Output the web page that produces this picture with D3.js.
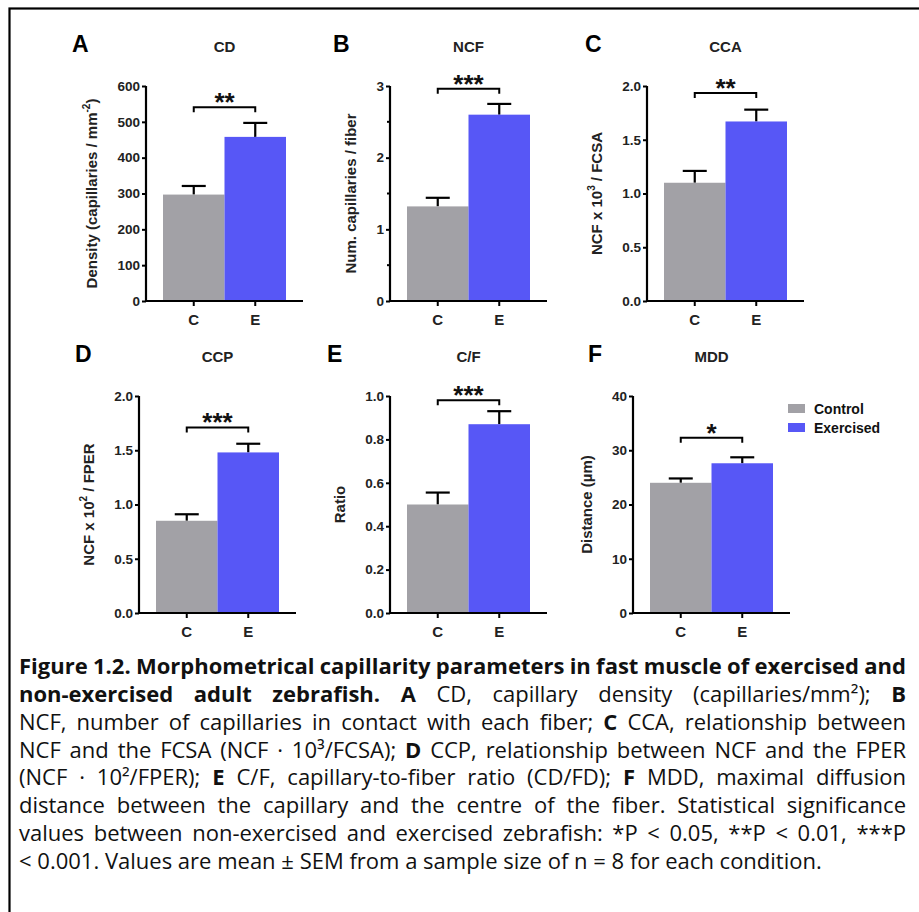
<!DOCTYPE html>
<html><head><meta charset="utf-8">
<script src="https://cdn.jsdelivr.net/npm/d3@7/dist/d3.min.js"></script>
<style>
html,body{margin:0;padding:0;background:#fff;}
svg{display:block;}
</style></head>
<body>
<svg id="fig" width="919" height="912"></svg>
<script>
// ---------------- DATA ----------------
const categories = ["C", "E"];
const seriesNames = ["Control", "Exercised"];
const panelLetters = ["A", "B", "C", "D", "E", "F"];
const panelTitles = ["CD", "NCF", "CCA", "CCP", "C/F", "MDD"];
const controlMeans = [297, 1.32, 1.10, 0.85, 0.50, 24.0];
const controlSEM = [24, 0.12, 0.11, 0.06, 0.055, 0.8];
const exercisedMeans = [458, 2.60, 1.67, 1.48, 0.87, 27.6];
const exercisedSEM = [39, 0.15, 0.11, 0.08, 0.06, 1.1];
const yMaxValues = [600, 3, 2.0, 2.0, 1.0, 40];
const yTickValues = [
  [0, 100, 200, 300, 400, 500, 600],
  [0, 1, 2, 3],
  [0, 0.5, 1.0, 1.5, 2.0],
  [0, 0.5, 1.0, 1.5, 2.0],
  [0, 0.2, 0.4, 0.6, 0.8, 1.0],
  [0, 10, 20, 30, 40]
];
const yTickDecimals = [0, 0, 1, 1, 1, 0];
const yMinorTicks = [[], [0.5, 1.5, 2.5], [], [], [], []];
const significance = ["**", "***", "**", "***", "***", "*"];
const bracketLevels = [541, 2.96, 1.935, 1.71, 0.98, 32.3];
// y-axis labels: [text, superscript, text]
const yLabels = [
  ["Density (capillaries / mm", "-2", ")"],
  ["Num. capillaries / fiber", "", ""],
  ["NCF x 10", "3", " / FCSA"],
  ["NCF x 10", "2", " / FPER"],
  ["Ratio", "", ""],
  ["Distance (\u00b5m)", "", ""]
];
const captionLines = [
  [["Figure 1.2. Morphometrical capillarity parameters in fast muscle of exercised and", true]],
  [["non-exercised adult zebrafish.", true], ["A", true], ["CD, capillary density (capillaries/mm\u00b2);", false], ["B", true]],
  [["NCF, number of capillaries in contact with each fiber;", false], ["C", true], ["CCA, relationship between", false]],
  [["NCF and the FCSA (NCF \u00b7 10\u00b3/FCSA);", false], ["D", true], ["CCP, relationship between NCF and the FPER", false]],
  [["(NCF \u00b7 10\u00b2/FPER);", false], ["E", true], ["C/F, capillary-to-fiber ratio (CD/FD);", false], ["F", true], ["MDD, maximal diffusion", false]],
  [["distance between the capillary and the centre of the fiber. Statistical significance", false]],
  [["values between non-exercised and exercised zebrafish: *P < 0.05, **P < 0.01, ***P", false]],
  [["< 0.001. Values are mean \u00b1 SEM from a sample size of n = 8 for each condition.", false]]
];

// ---------------- LAYOUT / STYLE ----------------
const colors = ["#a2a1a6", "#5757f6"];
const axisX = [146, 390, 647, 139, 390, 633];
const rowTop = [86, 86, 86, 396, 396, 396];
const rowBottom = [301, 301, 301, 613, 613, 613];
const letterX = [72, 333, 585, 75, 327, 588];
const FONT = "'Liberation Sans', Arial, Helvetica, sans-serif";

const svg = d3.select("#fig");
svg.append("rect").attr("width", 919).attr("height", 912).attr("fill", "#fff");
svg.append("rect").attr("x", 9.5).attr("y", 8.5).attr("width", 1000).attr("height", 1000)
  .attr("fill", "none").attr("stroke", "#000").attr("stroke-width", 2.2);

panelLetters.forEach((letter, i) => {
  const g = svg.append("g").attr("font-family", FONT).attr("font-weight", "bold");
  const x0 = axisX[i];
  const y = d3.scaleLinear().domain([0, yMaxValues[i]]).range([rowBottom[i], rowTop[i]]);
  const x = d3.scaleBand().domain(categories).range([x0 + 17, x0 + 140]).padding(0);
  const xEnd = x0 + 157;

  g.append("text").attr("x", letterX[i]).attr("y", rowTop[i] - 34)
    .attr("font-size", 23).attr("fill", "#000").text(letter);
  g.append("text").attr("x", (x.range()[0] + x.range()[1]) / 2).attr("y", rowTop[i] - 34)
    .attr("text-anchor", "middle").attr("font-size", 15).attr("fill", "#222").text(panelTitles[i]);

  const means = [controlMeans[i], exercisedMeans[i]];
  const sems = [controlSEM[i], exercisedSEM[i]];
  categories.forEach((c, k) => {
    const cx = x(c) + x.bandwidth() / 2;
    g.append("line").attr("x1", cx).attr("x2", cx)
      .attr("y1", y(means[k])).attr("y2", y(means[k] + sems[k]))
      .attr("stroke", "#000").attr("stroke-width", 2.2);
    g.append("line").attr("x1", cx - 12).attr("x2", cx + 12)
      .attr("y1", y(means[k] + sems[k])).attr("y2", y(means[k] + sems[k]))
      .attr("stroke", "#000").attr("stroke-width", 2.2);
  });
  g.selectAll("rect.bar").data(categories).join("rect").attr("class", "bar")
    .attr("x", c => x(c)).attr("width", x.bandwidth())
    .attr("y", (c, k) => y(means[k])).attr("height", (c, k) => y(0) - y(means[k]))
    .attr("fill", (c, k) => colors[k]);

  const fmt = d3.format("." + yTickDecimals[i] + "f");
  const yAxis = d3.axisLeft(y).tickValues(yTickValues[i]).tickFormat(fmt)
    .tickSizeInner(4).tickSizeOuter(0).tickPadding(2);
  const ya = g.append("g").attr("transform", `translate(${x0},0)`).call(yAxis);
  ya.select(".domain").attr("stroke-width", 2.2).attr("d", `M0,${y(yMaxValues[i])}V${y(0) + 1}`);
  ya.selectAll(".tick line").attr("stroke-width", 2);
  ya.selectAll(".tick text").attr("font-size", 13.5).attr("font-family", FONT)
    .attr("font-weight", "bold").attr("fill", "#222");
  yMinorTicks[i].forEach(v => {
    g.append("line").attr("x1", x0 - 3).attr("x2", x0).attr("y1", y(v)).attr("y2", y(v))
      .attr("stroke", "#000").attr("stroke-width", 2);
  });

  const xAxis = d3.axisBottom(x).tickSizeInner(5).tickSizeOuter(0).tickPadding(8);
  const xa = g.append("g").attr("transform", `translate(0,${y(0)})`).call(xAxis);
  xa.select(".domain").remove();
  xa.selectAll(".tick line").attr("stroke-width", 2);
  xa.selectAll(".tick text").attr("font-size", 15).attr("font-family", FONT)
    .attr("font-weight", "bold").attr("fill", "#222");
  g.append("line").attr("x1", x0 - 1).attr("x2", xEnd).attr("y1", y(0)).attr("y2", y(0))
    .attr("stroke", "#000").attr("stroke-width", 2.2);

  let maxW = 0;
  ya.selectAll(".tick text").each(function () { maxW = Math.max(maxW, this.getComputedTextLength()); });
  const lx = x0 - 6 - maxW - 20;
  const ly = (y(0) + y(yMaxValues[i])) / 2;
  const lab = g.append("text").attr("transform", `translate(${lx},${ly}) rotate(-90)`)
    .attr("text-anchor", "middle").attr("font-size", 15).attr("fill", "#222");
  lab.append("tspan").text(yLabels[i][0]);
  if (yLabels[i][1]) {
    lab.append("tspan").attr("font-size", 10).attr("dy", -7).text(yLabels[i][1]);
    lab.append("tspan").attr("dy", 7).text(yLabels[i][2]);
  }

  const bx1 = x("C") + x.bandwidth() / 2, bx2 = x("E") + x.bandwidth() / 2;
  const by = y(bracketLevels[i]);
  g.append("path").attr("d", `M${bx1},${by + 5}V${by}H${bx2}V${by + 5}`)
    .attr("fill", "none").attr("stroke", "#000").attr("stroke-width", 2);
  g.append("text").attr("x", (bx1 + bx2) / 2).attr("y", by + 4)
    .attr("text-anchor", "middle").attr("font-size", 26).attr("fill", "#111")
    .text(significance[i]);

  if (i === 5) {
    seriesNames.forEach((s, k) => {
      g.append("rect").attr("x", 788).attr("y", 404 + k * 19).attr("width", 17).attr("height", 9)
        .attr("fill", colors[k]);
      g.append("text").attr("x", 814).attr("y", 413.5 + k * 19).attr("font-size", 14)
        .attr("fill", "#111").text(s);
    });
  }
});

// ---------------- CAPTION (justified) ----------------
const capFont = "'Open Sans', 'Noto Sans', sans-serif";
const capLeft = 19, capRight = 906, capTop = 674, capStep = 27.86, lastLineEnd = 822;
const cap = svg.append("g").attr("font-family", capFont).attr("fill", "#111");
// choose font size so that the final (unjustified) line has its natural width
const probe = cap.append("text").attr("font-size", 20)
  .text(captionLines[captionLines.length - 1].map(d => d[0]).join(" "));
const capSize = 20 * (lastLineEnd - capLeft) / probe.node().getComputedTextLength();
probe.remove();
cap.attr("font-size", capSize);
const spaceProbe = cap.append("text").text("a a");
const spaceProbe2 = cap.append("text").text("aa");
const spaceW = spaceProbe.node().getComputedTextLength() - spaceProbe2.node().getComputedTextLength();
spaceProbe.remove(); spaceProbe2.remove();

captionLines.forEach((line, li) => {
  const words = [];
  line.forEach(([txt, bold]) => txt.split(" ").forEach(w => { if (w.length) words.push([w, bold]); }));
  const grp = cap.append("g");
  const nodes = words.map(([w, bold]) => grp.append("text")
    .attr("y", capTop + li * capStep).attr("font-weight", bold ? "bold" : "normal").text(w));
  let widths = nodes.map(n => n.node().getComputedTextLength());
  const last = li === captionLines.length - 1;
  let total = d3.sum(widths);
  let gap = last ? spaceW : (capRight - capLeft - total) / (words.length - 1);
  if (!last && gap < spaceW * 0.6) {
    // too wide: shrink this line slightly
    const s = (capRight - capLeft - spaceW * 0.6 * (words.length - 1)) / total;
    nodes.forEach(n => n.attr("font-size", capSize * s));
    widths = nodes.map(n => n.node().getComputedTextLength());
    total = d3.sum(widths);
    gap = (capRight - capLeft - total) / (words.length - 1);
  }
  let cx = capLeft;
  nodes.forEach((n, k) => { n.attr("x", cx); cx += widths[k] + gap; });
});
</script>
</body></html>
